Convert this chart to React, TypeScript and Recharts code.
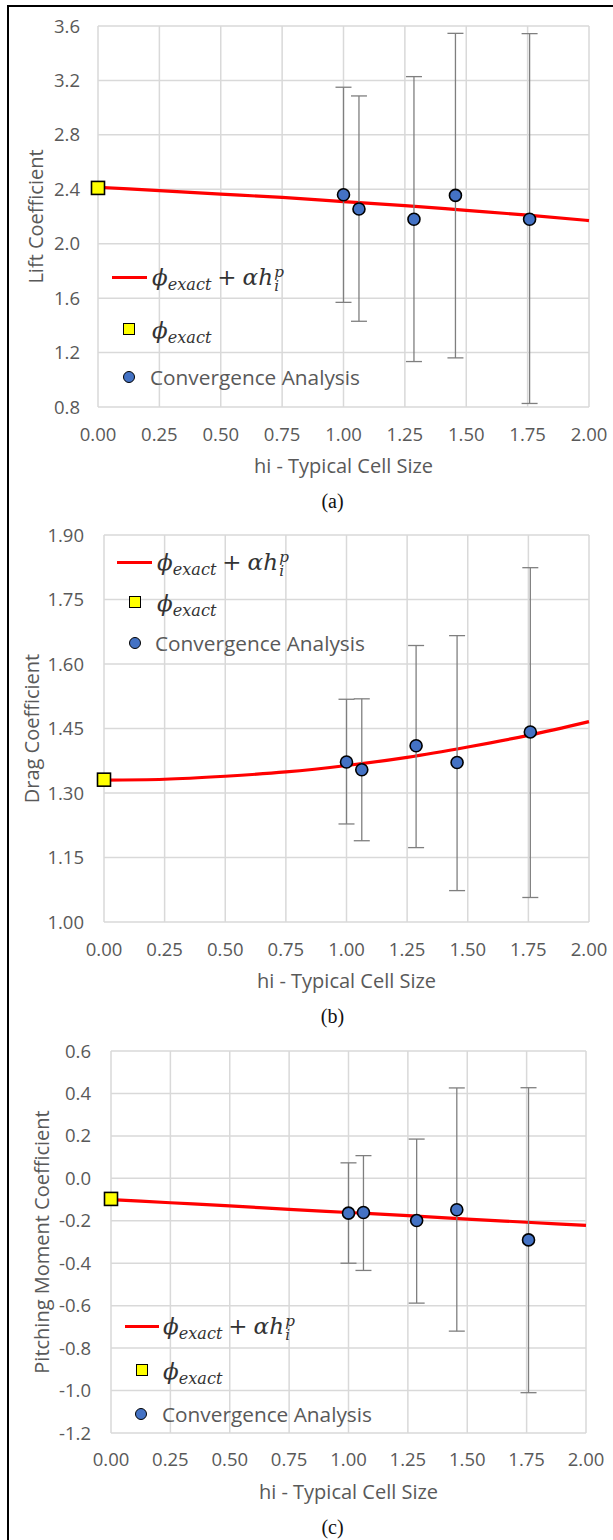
import React from 'react';
import {
  ComposedChart,
  Line,
  Scatter,
  XAxis,
  YAxis,
  CartesianGrid,
  ErrorBar,
  Legend,
} from 'recharts';

// ---------- data ----------
const X_TICKS = [0, 0.25, 0.5, 0.75, 1.0, 1.25, 1.5, 1.75, 2.0];
const CELL_SIZES = [1.0, 1.063, 1.287, 1.456, 1.758];
const FIT_SIZES = [0, 0.25, 0.5, 0.75, 1.0, 1.25, 1.5, 1.75, 2.0];

const LIFT_VALUES = [2.36, 2.255, 2.18, 2.355, 2.18];
const LIFT_UPPER = [3.15, 3.086, 3.228, 3.546, 3.544];
const LIFT_LOWER = [1.569, 1.43, 1.134, 1.161, 0.826];
const LIFT_EXACT = 2.41;
const LIFT_FIT = [2.415, 2.39, 2.365, 2.34, 2.31, 2.28, 2.245, 2.21, 2.17];
const LIFT_TICKS = [0.8, 1.2, 1.6, 2.0, 2.4, 2.8, 3.2, 3.6];

const DRAG_VALUES = [1.372, 1.354, 1.41, 1.371, 1.442];
const DRAG_UPPER = [1.518, 1.519, 1.643, 1.666, 1.824];
const DRAG_LOWER = [1.228, 1.189, 1.173, 1.073, 1.057];
const DRAG_EXACT = 1.331;
const DRAG_FIT = [1.33, 1.332, 1.339, 1.349, 1.364, 1.383, 1.407, 1.434, 1.466];
const DRAG_TICKS = [1.0, 1.15, 1.3, 1.45, 1.6, 1.75, 1.9];

const MOMENT_VALUES = [-0.164, -0.161, -0.199, -0.148, -0.29];
const MOMENT_UPPER = [0.073, 0.107, 0.185, 0.426, 0.427];
const MOMENT_LOWER = [-0.4, -0.434, -0.588, -0.72, -1.01];
const MOMENT_EXACT = -0.097;
const MOMENT_FIT = [-0.1, -0.115, -0.13, -0.146, -0.161, -0.176, -0.192, -0.207, -0.222];
const MOMENT_TICKS = [-1.2, -1.0, -0.8, -0.6, -0.4, -0.2, 0.0, 0.2, 0.4, 0.6];

// ---------- styles ----------
const SANS = '"Open Sans", "Noto Sans", sans-serif';
const MATH = '"DejaVu Serif", "Liberation Serif", serif';
const GRAY_TEXT = '#595959';

const makePoints = (vals: number[], up: number[], lo: number[]) =>
  CELL_SIZES.map((h, i) => ({ h, v: vals[i], err: [vals[i] - lo[i], up[i] - vals[i]] }));
const makeFit = (fit: number[]) => FIT_SIZES.map((h, i) => ({ h, fit: fit[i] }));

const Circle = (p: any) => (
  <circle cx={p.cx} cy={p.cy} r={6} fill="#4472C4" stroke="#000" strokeWidth={1.6} />
);
const Square = (p: any) => (
  <rect x={p.cx - 6.5} y={p.cy - 6.5} width={13} height={13} fill="#FFFF00" stroke="#000" strokeWidth={1.6} />
);

const MathFit = () => (
  <span style={{ fontFamily: MATH, fontSize: 23, color: '#333', whiteSpace: 'nowrap', lineHeight: 1 }}>
    <i>ϕ</i>
    <i style={{ fontSize: '0.7em', position: 'relative', top: '0.3em' }}>exact</i>
    <span style={{ margin: '0 0.26em' }}>+</span>
    <i>α</i>
    <i>h</i>
    <span
      style={{
        display: 'inline-flex',
        flexDirection: 'column',
        fontSize: '0.66em',
        lineHeight: 0.95,
        verticalAlign: 'middle',
        marginLeft: '0.08em',
      }}
    >
      <i>p</i>
      <i>i</i>
    </span>
  </span>
);

const MathExact = () => (
  <span style={{ fontFamily: MATH, fontSize: 23, color: '#333', whiteSpace: 'nowrap', lineHeight: 1 }}>
    <i>ϕ</i>
    <i style={{ fontSize: '0.7em', position: 'relative', top: '0.3em' }}>exact</i>
  </span>
);

type LegendCfg = {
  lineX1: number;
  lineX2: number;
  lineY: number;
  mathX: number;
  markerX: number;
  squareY: number;
  exactX: number;
  circleX: number;
  circleY: number;
  convX: number;
};

const LegendBox = ({ cfg }: { cfg: LegendCfg }) => {
  const row = (x: number, y: number): React.CSSProperties => ({
    position: 'absolute',
    left: x,
    top: y,
    transform: 'translateY(-50%)',
  });
  return (
    <div style={{ position: 'relative', width: '100%', height: '100%' }}>
      <div
        style={{
          position: 'absolute',
          left: cfg.lineX1,
          top: cfg.lineY - 1.5,
          width: cfg.lineX2 - cfg.lineX1,
          height: 3,
          background: '#FF0000',
        }}
      />
      <div style={row(cfg.mathX, cfg.lineY + 2)}>
        <MathFit />
      </div>
      <div
        style={{
          position: 'absolute',
          left: cfg.markerX - 6.5,
          top: cfg.squareY - 6.5,
          width: 10,
          height: 10,
          background: '#FFFF00',
          border: '1.6px solid #000',
        }}
      />
      <div style={row(cfg.exactX, cfg.squareY + 1)}>
        <MathExact />
      </div>
      <div
        style={{
          position: 'absolute',
          left: cfg.circleX - 6.5,
          top: cfg.circleY - 6.5,
          width: 10,
          height: 10,
          borderRadius: '50%',
          background: '#4472C4',
          border: '1.6px solid #000',
        }}
      />
      <div
        style={{
          ...row(cfg.convX, cfg.circleY),
          fontFamily: SANS,
          fontSize: 20.8,
          color: GRAY_TEXT,
          whiteSpace: 'nowrap',
          lineHeight: 1.2,
        }}
      >
        Convergence Analysis
      </div>
    </div>
  );
};

type PanelProps = {
  top: number;
  height: number;
  margin: { top: number; right: number; bottom: number; left: number };
  yAxisWidth: number;
  yTickMargin: number;
  xTickMargin: number;
  yDomain: [number, number];
  yTicks: number[];
  decimals: number;
  yTitle: string;
  yTitleX: number;
  caption: string;
  values: number[];
  upper: number[];
  lower: number[];
  exact: number;
  fit: number[];
  legend: LegendCfg;
};

const Panel = (p: PanelProps) => {
  const points = makePoints(p.values, p.upper, p.lower);
  const fitData = makeFit(p.fit);
  const exactData = [{ h: 0, v: p.exact }];
  return (
    <div style={{ position: 'absolute', left: 0, top: p.top, width: 613, height: p.height }}>
      <ComposedChart width={613} height={p.height} margin={p.margin} style={{ overflow: 'visible' }}>
        <CartesianGrid stroke="#d9d9d9" strokeWidth={1.5} />
        <XAxis
          type="number"
          dataKey="h"
          domain={[0, 2]}
          ticks={X_TICKS}
          interval={0}
          axisLine={false}
          tickLine={false}
          tickSize={0}
          tickMargin={p.xTickMargin}
          height={40}
          tick={{ fill: GRAY_TEXT, fontSize: 18.5, fontFamily: SANS }}
          tickFormatter={(v: number) => v.toFixed(2)}
          label={{
            content: (lp: any) => {
              const vb = lp.viewBox || {};
              const cx = (vb.x || 0) + (vb.width || 0) / 2;
              return (
                <g>
                  <text
                    x={cx}
                    y={(vb.y || 0) + 66}
                    textAnchor="middle"
                    fontFamily={SANS}
                    fontSize={20}
                    fill={GRAY_TEXT}
                  >
                    hi - Typical Cell Size
                  </text>
                  <text
                    x={332.5}
                    y={(vb.y || 0) + 101}
                    textAnchor="middle"
                    fontFamily={'"Liberation Serif", "Times New Roman", serif'}
                    fontSize={20}
                    fill="#111"
                  >
                    {p.caption}
                  </text>
                </g>
              );
            },
          }}
        />
        <YAxis
          type="number"
          domain={p.yDomain}
          ticks={p.yTicks}
          interval={0}
          axisLine={false}
          tickLine={false}
          tickSize={0}
          tickMargin={p.yTickMargin}
          width={p.yAxisWidth}
          tick={{ fill: GRAY_TEXT, fontSize: 18.5, fontFamily: SANS }}
          tickFormatter={(v: number) => v.toFixed(p.decimals)}
          label={{
            content: (lp: any) => {
              const vb = lp.viewBox || {};
              const cy = (vb.y || 0) + (vb.height || 0) / 2;
              return (
                <text
                  x={p.yTitleX}
                  y={cy}
                  transform={`rotate(-90 ${p.yTitleX} ${cy})`}
                  textAnchor="middle"
                  dominantBaseline="central"
                  fontFamily={SANS}
                  fontSize={20}
                  fill={GRAY_TEXT}
                >
                  {p.yTitle}
                </text>
              );
            },
          }}
        />
        <Line
          data={fitData}
          dataKey="fit"
          type="monotone"
          stroke="#FF0000"
          strokeWidth={3.2}
          dot={false}
          activeDot={false}
          isAnimationActive={false}
        />
        <Scatter data={points} dataKey="v" shape={Circle} isAnimationActive={false}>
          <ErrorBar dataKey="err" direction="y" width={8} stroke="#7f7f7f" strokeWidth={1.3} isAnimationActive={false} />
        </Scatter>
        <Scatter data={exactData} dataKey="v" shape={Square} isAnimationActive={false} />
        <Legend
          layout="horizontal"
          verticalAlign="middle"
          align="center"
          wrapperStyle={{ left: 0, top: 0, width: 613, height: p.height, pointerEvents: 'none' }}
          content={() => <LegendBox cfg={p.legend} />}
        />
      </ComposedChart>
    </div>
  );
};

export default function App() {
  return (
    <div style={{ position: 'absolute', left: 0, top: 0, width: 613, height: 1540, background: '#fff' }}>
      <div
        style={{
          position: 'absolute',
          left: 7,
          top: 5,
          width: 620,
          height: 1560,
          borderLeft: '2.5px solid #000',
          borderTop: '2.5px solid #000',
        }}
      />
      <Panel
        top={0}
        height={520}
        margin={{ top: 26, right: 24, bottom: 73, left: 0 }}
        yAxisWidth={98}
        yTickMargin={18}
        xTickMargin={21}
        yDomain={[0.8, 3.6]}
        yTicks={LIFT_TICKS}
        decimals={1}
        yTitle="Lift Coefficient"
        yTitleX={35}
        caption="(a)"
        values={LIFT_VALUES}
        upper={LIFT_UPPER}
        lower={LIFT_LOWER}
        exact={LIFT_EXACT}
        fit={LIFT_FIT}
        legend={{
          lineX1: 112,
          lineX2: 147,
          lineY: 277,
          mathX: 152,
          markerX: 129,
          squareY: 329,
          exactX: 152,
          circleX: 129,
          circleY: 377,
          convX: 150,
        }}
      />
      <Panel
        top={510}
        height={520}
        margin={{ top: 25, right: 24, bottom: 68, left: 0 }}
        yAxisWidth={104}
        yTickMargin={20}
        xTickMargin={21}
        yDomain={[1.0, 1.9]}
        yTicks={DRAG_TICKS}
        decimals={2}
        yTitle="Drag Coefficient"
        yTitleX={31}
        caption="(b)"
        values={DRAG_VALUES}
        upper={DRAG_UPPER}
        lower={DRAG_LOWER}
        exact={DRAG_EXACT}
        fit={DRAG_FIT}
        legend={{
          lineX1: 117,
          lineX2: 152,
          lineY: 52,
          mathX: 157,
          markerX: 135,
          squareY: 92,
          exactX: 157,
          circleX: 135,
          circleY: 133,
          convX: 155,
        }}
      />
      <Panel
        top={1030}
        height={510}
        margin={{ top: 21, right: 27, bottom: 67, left: 0 }}
        yAxisWidth={111}
        yTickMargin={20}
        xTickMargin={20}
        yDomain={[-1.2, 0.6]}
        yTicks={MOMENT_TICKS}
        decimals={1}
        yTitle="Pitching Moment Coefficient"
        yTitleX={41}
        caption="(c)"
        values={MOMENT_VALUES}
        upper={MOMENT_UPPER}
        lower={MOMENT_LOWER}
        exact={MOMENT_EXACT}
        fit={MOMENT_FIT}
        legend={{
          lineX1: 125,
          lineX2: 159,
          lineY: 296,
          mathX: 163,
          markerX: 142,
          squareY: 340,
          exactX: 163,
          circleX: 141,
          circleY: 384,
          convX: 162,
        }}
      />
    </div>
  );
}
